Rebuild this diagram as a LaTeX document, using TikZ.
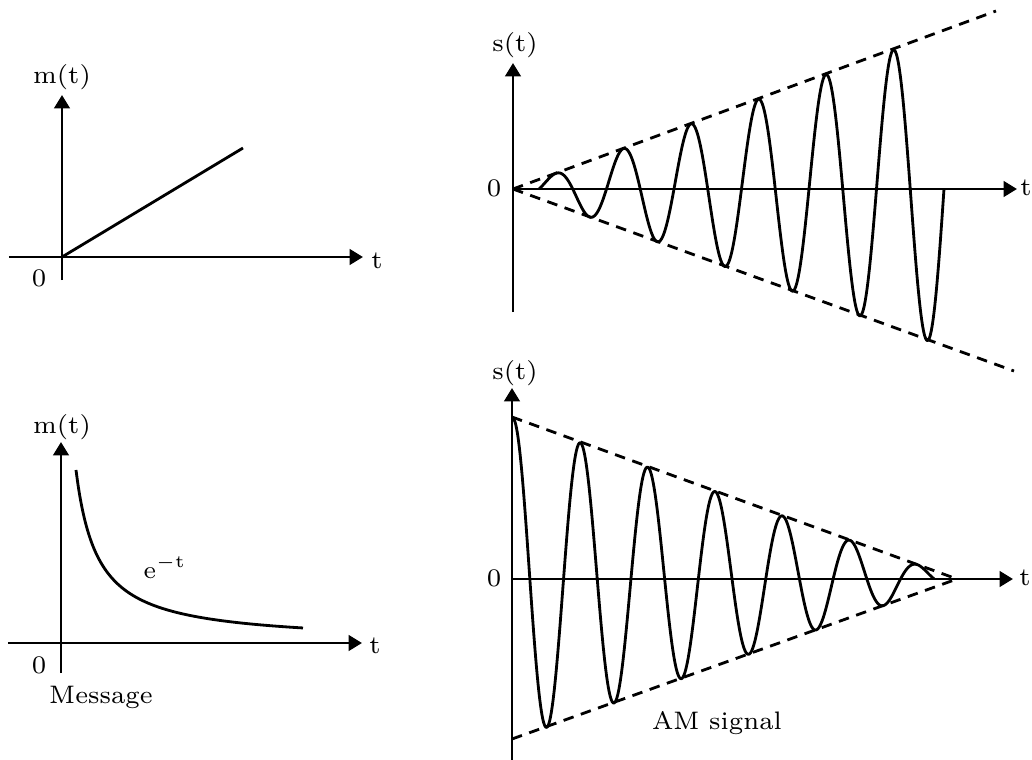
\documentclass[tikz,border=0pt]{standalone}
\usetikzlibrary{arrows.meta}
\begin{document}
\begin{tikzpicture}[x=0.01cm,y=-0.01cm,
  axis/.style={-{Triangle[length=3.8pt,width=4.4pt]},line width=0.8pt},
  curve/.style={line width=0.8pt,line join=round},
  envl/.style={line width=0.8pt,dash pattern=on 3pt off 2.2pt},
  lbl/.style={font=\fontsize{7.2}{8.6}\selectfont,inner sep=0pt}
]
  \useasboundingbox (0,0) rectangle (1032,760);

  % ---- Message 1: ramp ------------------------------------------
  \coordinate (mAo) at (62,257);
  \coordinate (mAw) at (9,257);
  \coordinate (mAe) at (363,257);
  \coordinate (mAs) at (62,280);
  \coordinate (mAn) at (62,95);
  \coordinate (mAend) at (243,148);
  \draw[axis] (mAw) -- (mAe);
  \draw[axis] (mAs) -- (mAn);
  \draw[curve] (mAo) -- (mAend);
  \node[lbl] (mAy) at (62,77) {m(t)};
  \node[lbl] (mAt) at (377,261) {t};
  \node[lbl] (mAz) at (39,278) {0};

  % ---- Message 2: decaying exponential --------------------------
  \coordinate (mBw) at (8,643);
  \coordinate (mBe) at (362,643);
  \coordinate (mBs) at (61,673);
  \coordinate (mBn) at (61,442);
  \draw[axis] (mBw) -- (mBe);
  \draw[axis] (mBs) -- (mBn);
  \draw[curve] plot[domain=76:303,samples=120,smooth]
    (\x,{643-3737/(\x-54.4)});
  \node[lbl] (mBy) at (62,427) {m(t)};
  \node[lbl] (mBf) at (165,567) {$\mathrm{e}^{-\mathrm{t}}$};
  \node[lbl] (mBt) at (375,646) {t};
  \node[lbl] (mBz) at (39,665) {0};
  \node[lbl] (msg) at (101,697) {Message};

  % ---- AM signal 1: growing envelope ----------------------------
  \coordinate (sAo) at (513,189);
  \coordinate (sAe) at (1017,189);
  \coordinate (sAs) at (513,312);
  \coordinate (sAn) at (513,63);
  \coordinate (sAup) at (996,11);
  \coordinate (sAdn) at (1014,371);
  \draw[axis] (sAo) -- (sAe);
  \draw[axis] (sAs) -- (sAn);
  \draw[envl] (sAo) -- (sAup);
  \draw[envl] (sAo) -- (sAdn);
  \draw[curve] plot[domain=539:944,samples=400,smooth]
    (\x,{189-0.366*(\x-513)*sin(2*pi*(\x-539)/67.5 r)});
  \node[lbl] (sAy) at (515,45) {s(t)};
  \node[lbl] (sAt) at (1026,188) {t};
  \node[lbl] (sAz) at (494,188) {0};

  % ---- AM signal 2: shrinking envelope --------------------------
  \coordinate (sBo) at (512,579);
  \coordinate (sBe) at (1013,579);
  \coordinate (sBs) at (512,760);
  \coordinate (sBn) at (512,388);
  \coordinate (sBup) at (512,417);
  \coordinate (sBdn) at (512,739);
  \coordinate (sBap) at (957,579);
  \draw[axis] (sBo) -- (sBe);
  \draw[axis] (sBs) -- (sBn);
  \draw[envl] (sBup) -- (sBap);
  \draw[envl] (sBdn) -- (sBap);
  \draw[curve] plot[domain=513:934,samples=400,smooth]
    (\x,{579-0.3618*(957-\x)*cos(2*pi*(\x-513)/67.4 r)});
  \node[lbl] (sBy) at (515,373) {s(t)};
  \node[lbl] (sBt) at (1025,578) {t};
  \node[lbl] (sBz) at (494,578) {0};
  \node[lbl] (amlbl) at (717,723) {AM signal};

\end{tikzpicture}
\end{document}
